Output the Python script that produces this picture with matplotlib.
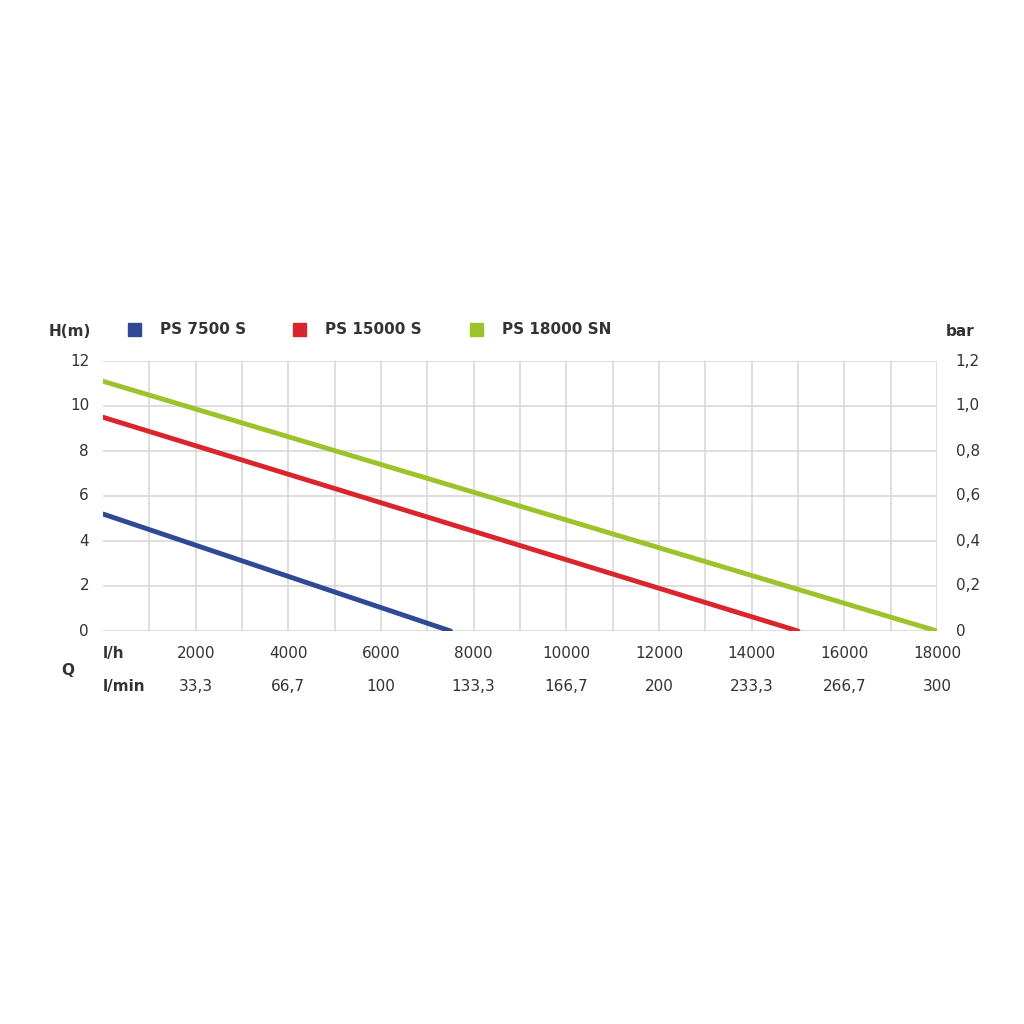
import matplotlib
matplotlib.use("Agg")
import matplotlib.pyplot as plt
import numpy as np

series_names = ["PS 7500 S", "PS 15000 S", "PS 18000 SN"]
series_colors = ["#2e4a94", "#d9262c", "#9cc32a"]
flow_lh = [[0, 7500], [0, 15000], [0, 18000]]
head_m = [[5.2, 0], [9.5, 0], [11.1, 0]]
xticks_lh = [2000, 4000, 6000, 8000, 10000, 12000, 14000, 16000, 18000]
xlabels_lmin = ["33,3", "66,7", "100", "133,3", "166,7", "200", "233,3", "266,7", "300"]
yticks = [0, 2, 4, 6, 8, 10, 12]
bar_labels = ["0", "0,2", "0,4", "0,6", "0,8", "1,0", "1,2"]

fig = plt.figure(figsize=(10.24, 10.24), dpi=100)
ax = fig.add_axes([103/1024, 1-631/1024, 834/1024, 270/1024])
ax.set_xlim(0, 18000)
ax.set_ylim(0, 12)
ax.set_xticks(np.arange(1000, 18001, 1000))
ax.set_yticks(yticks)
ax.grid(True, color="#d8d8d8", lw=1.2)
ax.set_axisbelow(True)
for s in ax.spines.values():
    s.set_visible(False)
ax.tick_params(length=0, labelbottom=False, labelleft=False)

for xs, ys, c in zip(flow_lh, head_m, series_colors):
    ax.plot(xs, ys, color=c, lw=3.5, solid_capstyle="round")

tc = "#333333"
for y in yticks:
    ax.text(-300, y, str(y), ha="right", va="center", fontsize=11, color=tc)
for y, l in zip(yticks, bar_labels):
    ax.text(18400, y, l, ha="left", va="center", fontsize=11, color=tc)
tr = ax.get_xaxis_transform()
for x in xticks_lh:
    ax.text(x, -0.085, str(x), ha="center", va="center", fontsize=11, color=tc, transform=tr)
for x, l in zip(xticks_lh, xlabels_lmin):
    ax.text(x, -0.205, l, ha="center", va="center", fontsize=11, color=tc, transform=tr)
ax.text(0, -0.085, "l/h", ha="left", va="center", fontsize=11, fontweight="bold", color=tc, transform=tr)
ax.text(0, -0.205, "l/min", ha="left", va="center", fontsize=11, fontweight="bold", color=tc, transform=tr)
ax.text(-0.05, -0.145, "Q", ha="left", va="center", fontsize=11, fontweight="bold", color=tc, transform=ax.transAxes)
ax.text(-0.065, 1.11, "H(m)", ha="left", va="center", fontsize=11, fontweight="bold", color=tc, transform=ax.transAxes)
ax.text(1.01, 1.11, "bar", ha="left", va="center", fontsize=11, fontweight="bold", color=tc, transform=ax.transAxes)

lx = [128, 293, 470]
for x, n, c in zip(lx, series_names, series_colors):
    fig.patches.append(plt.Rectangle((x/1024, 1-336/1024), 13/1024, 13/1024, color=c, transform=fig.transFigure))
    fig.text((x + 32)/1024, 1-329/1024, n, ha="left", va="center", fontsize=11, fontweight="bold", color=tc)

fig.savefig("out.png", dpi=100, facecolor="white")
